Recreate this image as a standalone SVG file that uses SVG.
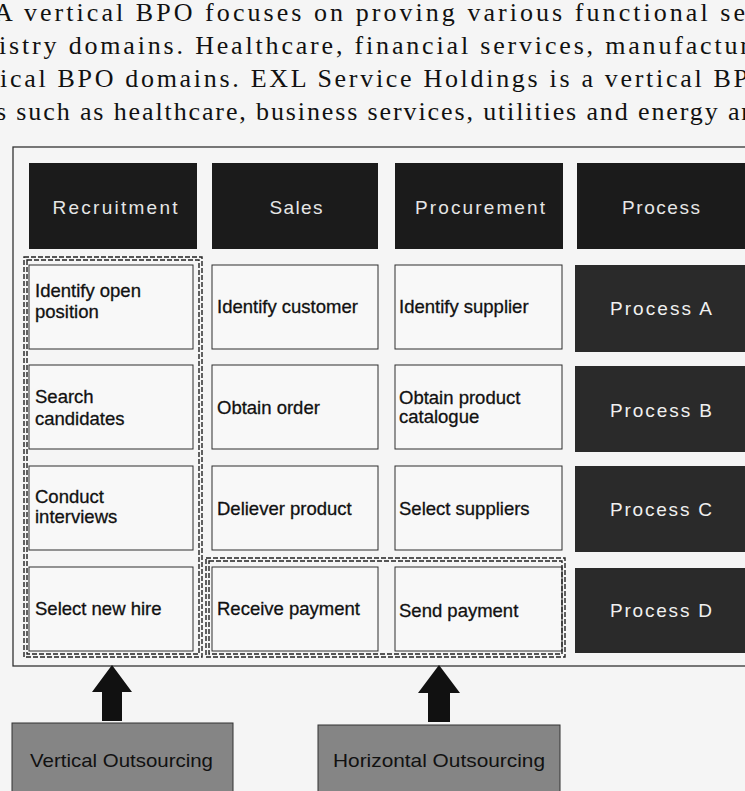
<svg xmlns="http://www.w3.org/2000/svg" width="745" height="791" viewBox="0 0 745 791">
<style>
.para{font-family:"Liberation Serif","Times New Roman",serif;font-size:26px;fill:#111}
.hdr rect{fill:#1b1b1b}
.hdr text{font-family:"Liberation Sans",Arial,sans-serif;font-size:19px;fill:#e6e6e6;text-anchor:middle}
.cell rect{fill:#f8f8f8;stroke:#2e2e2e;stroke-width:1}
.cell text{font-family:"Liberation Sans",Arial,sans-serif;font-size:18.5px;fill:#111;stroke:#111;stroke-width:0.3}
.proc rect{fill:#2a2a2a}
.proc text{font-family:"Liberation Sans",Arial,sans-serif;font-size:19px;fill:#f0f0f0;text-anchor:middle}
.dash{fill:none;stroke:#222;stroke-width:1.4;stroke-dasharray:5 2}
.lbl rect{fill:#858585;stroke:#333;stroke-width:1}
.lbl text{font-family:"Liberation Sans",Arial,sans-serif;font-size:19px;fill:#111}
.arrow{fill:#111}
</style>
<rect x="0" y="0" width="745" height="791" fill="#f5f5f5"/>
<g id="paragraph">
<text class="para" x="-6" y="21" textLength="751" lengthAdjust="spacing">A vertical BPO focuses on proving various functional se</text>
<text class="para" x="-1" y="54" textLength="750" lengthAdjust="spacing">istry domains. Healthcare, financial services, manufactur</text>
<text class="para" x="0" y="87" textLength="748" lengthAdjust="spacing">ical BPO domains. EXL Service Holdings is a vertical BP</text>
<text class="para" x="-4" y="120" textLength="754" lengthAdjust="spacing">s such as healthcare, business services, utilities and energy ar</text>
</g>
<g id="frame">
<rect x="13" y="147" width="750" height="519" fill="none" stroke="#333" stroke-width="1.3"/>
</g>
<g id="hdr-recruitment" class="hdr"><rect x="29" y="163" width="168" height="86"/><text x="115" y="214" textLength="125" lengthAdjust="spacing">Recruitment</text></g>
<g id="hdr-sales" class="hdr"><rect x="212" y="163" width="166" height="86"/><text x="296" y="214" textLength="53" lengthAdjust="spacing">Sales</text></g>
<g id="hdr-procurement" class="hdr"><rect x="395" y="163" width="168" height="86"/><text x="480" y="214" textLength="130" lengthAdjust="spacing">Procurement</text></g>
<g id="hdr-process" class="hdr"><rect x="577" y="163" width="170" height="86"/><text x="661" y="214" textLength="78" lengthAdjust="spacing">Process</text></g>

<g id="r1c1" class="cell"><rect x="29" y="265" width="164" height="84"/><text x="35" y="297">Identify open</text><text x="35" y="318">position</text></g>
<g id="r1c2" class="cell"><rect x="212" y="265" width="166" height="84"/><text x="217" y="313">Identify customer</text></g>
<g id="r1c3" class="cell"><rect x="395" y="265" width="167" height="84"/><text x="399" y="313">Identify supplier</text></g>
<g id="procA" class="proc"><rect x="575" y="265" width="172" height="87"/><text x="661" y="315" textLength="102" lengthAdjust="spacing">Process A</text></g>

<g id="r2c1" class="cell"><rect x="29" y="365" width="164" height="84"/><text x="35" y="403">Search</text><text x="35" y="425">candidates</text></g>
<g id="r2c2" class="cell"><rect x="212" y="365" width="166" height="84"/><text x="217" y="414">Obtain order</text></g>
<g id="r2c3" class="cell"><rect x="395" y="365" width="167" height="84"/><text x="399" y="404">Obtain product</text><text x="399" y="423">catalogue</text></g>
<g id="procB" class="proc"><rect x="575" y="366" width="172" height="86"/><text x="661" y="417" textLength="102" lengthAdjust="spacing">Process B</text></g>

<g id="r3c1" class="cell"><rect x="29" y="466" width="164" height="84"/><text x="35" y="503">Conduct</text><text x="35" y="523">interviews</text></g>
<g id="r3c2" class="cell"><rect x="212" y="466" width="166" height="84"/><text x="217" y="515">Deliever product</text></g>
<g id="r3c3" class="cell"><rect x="395" y="466" width="167" height="84"/><text x="399" y="515">Select suppliers</text></g>
<g id="procC" class="proc"><rect x="575" y="466" width="172" height="86"/><text x="661" y="516" textLength="102" lengthAdjust="spacing">Process C</text></g>

<g id="r4c1" class="cell"><rect x="29" y="567" width="164" height="84"/><text x="35" y="615">Select new hire</text></g>
<g id="r4c2" class="cell"><rect x="212" y="567" width="166" height="84"/><text x="217" y="615">Receive payment</text></g>
<g id="r4c3" class="cell"><rect x="395" y="567" width="167" height="84"/><text x="399" y="617">Send payment</text></g>
<g id="procD" class="proc"><rect x="575" y="568" width="172" height="85"/><text x="661" y="617" textLength="102" lengthAdjust="spacing">Process D</text></g>

<g id="vertical-group">
<rect class="dash" x="24" y="257" width="178" height="400"/>
<rect class="dash" x="27" y="260" width="172" height="394"/>
</g>
<g id="horizontal-group">
<rect class="dash" x="206" y="558" width="359" height="99"/>
<rect class="dash" x="209" y="561" width="353" height="93"/>
</g>

<g id="connectors">
<polygon class="arrow" points="112,665 132,692 122,692 122,721 102,721 102,692 92,692"/>
<polygon class="arrow" points="439,665 460,693 450,693 450,722 428,722 428,693 418,693"/>
</g>

<g id="lbl-vertical" class="lbl"><rect x="12" y="723" width="221" height="80"/><text x="30" y="767" textLength="183" lengthAdjust="spacingAndGlyphs">Vertical Outsourcing</text></g>
<g id="lbl-horizontal" class="lbl"><rect x="318" y="725" width="242" height="80"/><text x="333" y="767" textLength="212" lengthAdjust="spacingAndGlyphs">Horizontal Outsourcing</text></g>
</svg>
